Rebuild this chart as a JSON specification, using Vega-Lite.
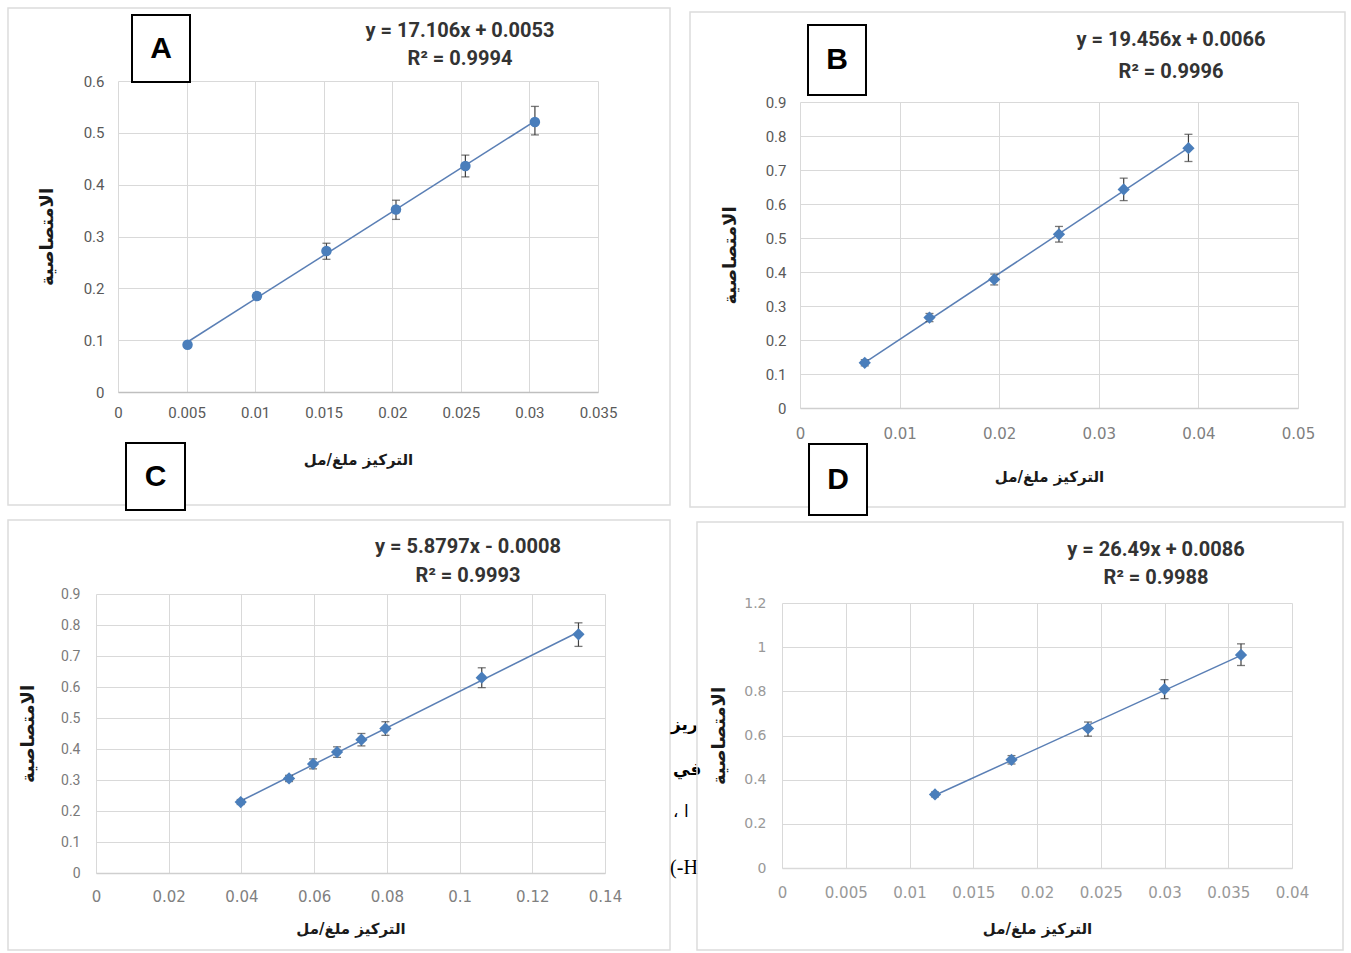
{
"$schema":"https://vega.github.io/schema/vega-lite/v6.json",
"width":1351,"height":953,"padding":0,"autosize":{"type":"none"},"background":"white",
"config":{"view":{"stroke":null},"axis":{"gridColor":"#d9d9d9","gridWidth":1,"domain":false,"ticks":false,"tickSize":0,"labelFlush":false,"labelOverlap":false,"labelBound":false}},
"datasets":{
"A":[{"x":0.00507,"y":0.091,"lo":0.087,"hi":0.095},{"x":0.01013,"y":0.185,"lo":0.179,"hi":0.191},{"x":0.0152,"y":0.272,"lo":0.256,"hi":0.287},{"x":0.02027,"y":0.352,"lo":0.333,"hi":0.37},{"x":0.02533,"y":0.436,"lo":0.415,"hi":0.457},{"x":0.0304,"y":0.521,"lo":0.496,"hi":0.551}],
"B":[{"x":0.0065,"y":0.133,"lo":0.124,"hi":0.142},{"x":0.013,"y":0.266,"lo":0.254,"hi":0.278},{"x":0.0195,"y":0.378,"lo":0.362,"hi":0.394},{"x":0.026,"y":0.511,"lo":0.488,"hi":0.534},{"x":0.0325,"y":0.643,"lo":0.61,"hi":0.676},{"x":0.039,"y":0.764,"lo":0.725,"hi":0.805}],
"C":[{"x":0.0398,"y":0.229,"lo":0.221,"hi":0.237},{"x":0.0531,"y":0.305,"lo":0.295,"hi":0.315},{"x":0.0597,"y":0.352,"lo":0.336,"hi":0.368},{"x":0.0663,"y":0.39,"lo":0.373,"hi":0.407},{"x":0.073,"y":0.43,"lo":0.41,"hi":0.45},{"x":0.0796,"y":0.466,"lo":0.444,"hi":0.488},{"x":0.1061,"y":0.63,"lo":0.598,"hi":0.662},{"x":0.1327,"y":0.77,"lo":0.731,"hi":0.807}],
"D":[{"x":0.012,"y":0.333,"lo":0.322,"hi":0.344},{"x":0.018,"y":0.49,"lo":0.471,"hi":0.509},{"x":0.024,"y":0.632,"lo":0.597,"hi":0.661},{"x":0.03,"y":0.81,"lo":0.767,"hi":0.853},{"x":0.036,"y":0.965,"lo":0.917,"hi":1.015}]
},
"layer":[
{"data":{"name":"A"},"resolve":{"axis":{"x":"independent","y":"independent"}},
"layer":[
{"data":{"values":[{}]},"mark":{"type":"rect","fillOpacity":0,"stroke":"#dcdcdc","strokeWidth":1.5},
"encoding":{"x":{"datum":-0.008021,"type":"quantitative","scale":{"domain":[0,0.035],"range":[118,598],"nice":false,"zero":false},"axis":null},"x2":{"datum":0.04025},"y":{"datum":0.7409,"type":"quantitative","scale":{"domain":[0,0.6],"range":[392,81],"nice":false,"zero":false},"axis":null},"y2":{"datum":-0.218}}},
{"transform":[{"regression":"y","on":"x"}],"mark":{"type":"line","color":"#5a7fb5","strokeWidth":1.5},
"encoding":{"x":{"field":"x","type":"quantitative","scale":{"domain":[0,0.035],"range":[118,598],"nice":false,"zero":false},
"axis":{"orient":"bottom","offset":-561,"grid":false,"values":[0,0.005,0.01,0.015,0.02,0.025,0.03,0.035],"format":"~g","domain":true,"domainColor":"#bfbfbf","domainWidth":1.5,"labelFont":"Roboto","labelFontSize":15,"labelColor":"#595959","labelPadding":13,"title":"التركيز ملغ/مل","titleFont":"DejaVu Sans","titleFontSize":15,"titleFontWeight":"bold","titleColor":"#1a1a1a","titlePadding":32}},
"y":{"field":"y","type":"quantitative","scale":{"domain":[0,0.6],"range":[392,81],"nice":false,"zero":false},"axis":null}}},
{"mark":{"type":"rule","color":"#404040","strokeWidth":1.2},
"encoding":{"x":{"field":"x","type":"quantitative","scale":{"domain":[0,0.035],"range":[118,598],"nice":false,"zero":false},"axis":null},"y":{"field":"lo","type":"quantitative","scale":{"domain":[0,0.6],"range":[392,81],"nice":false,"zero":false},"axis":null},"y2":{"field":"hi"}}},
{"mark":{"type":"tick","orient":"horizontal","size":8,"thickness":1.3,"color":"#404040"},
"encoding":{"x":{"field":"x","type":"quantitative","scale":{"domain":[0,0.035],"range":[118,598],"nice":false,"zero":false},"axis":null},"y":{"field":"lo","type":"quantitative","scale":{"domain":[0,0.6],"range":[392,81],"nice":false,"zero":false},"axis":null}}},
{"mark":{"type":"tick","orient":"horizontal","size":8,"thickness":1.3,"color":"#404040"},
"encoding":{"x":{"field":"x","type":"quantitative","scale":{"domain":[0,0.035],"range":[118,598],"nice":false,"zero":false},"axis":null},"y":{"field":"hi","type":"quantitative","scale":{"domain":[0,0.6],"range":[392,81],"nice":false,"zero":false},"axis":null}}},
{"mark":{"type":"point","shape":"circle","filled":true,"size":110,"color":"#4a7ebb","opacity":1},
"encoding":{"x":{"field":"x","type":"quantitative","scale":{"domain":[0,0.035],"range":[118,598],"nice":false,"zero":false},
"axis":{"orient":"top","grid":true,"labels":false,"ticks":false,"domain":false,"title":null,"values":[0,0.005,0.01,0.015,0.02,0.025,0.03,0.035]}},
"y":{"field":"y","type":"quantitative","scale":{"domain":[0,0.6],"range":[392,81],"nice":false,"zero":false},
"axis":{"orient":"left","offset":-118,"grid":true,"values":[0,0.1,0.2,0.3,0.4,0.5,0.6],"format":"~g","labelFont":"Roboto","labelFontSize":15,"labelColor":"#595959","labelPadding":14,"title":"الامتصاصية","titleFont":"DejaVu Sans","titleFontSize":18,"titleFontWeight":"bold","titleColor":"#1a1a1a","titlePadding":27}}}},
{"data":{"values":[{}]},"mark":{"type":"text","text":"y = 17.106x + 0.0053","font":"Roboto","fontWeight":"bold","fontSize":20,"color":"#333333","baseline":"middle"},
"encoding":{"x":{"datum":0.024938,"type":"quantitative","scale":{"domain":[0,0.035],"range":[118,598],"nice":false,"zero":false},"axis":null},"y":{"datum":0.6965,"type":"quantitative","scale":{"domain":[0,0.6],"range":[392,81],"nice":false,"zero":false},"axis":null}}},
{"data":{"values":[{}]},"mark":{"type":"text","text":"R² = 0.9994","font":"Roboto","fontWeight":"bold","fontSize":20,"color":"#333333","baseline":"middle"},
"encoding":{"x":{"datum":0.024938,"type":"quantitative","scale":{"domain":[0,0.035],"range":[118,598],"nice":false,"zero":false},"axis":null},"y":{"datum":0.6425,"type":"quantitative","scale":{"domain":[0,0.6],"range":[392,81],"nice":false,"zero":false},"axis":null}}},
{"data":{"values":[{}]},"mark":{"type":"rect","fill":"white","stroke":"black","strokeWidth":2},
"encoding":{"x":{"datum":0.001021,"type":"quantitative","scale":{"domain":[0,0.035],"range":[118,598],"nice":false,"zero":false},"axis":null},"x2":{"datum":0.00525},"y":{"datum":0.7273,"type":"quantitative","scale":{"domain":[0,0.6],"range":[392,81],"nice":false,"zero":false},"axis":null},"y2":{"datum":0.5981}}},
{"data":{"values":[{}]},"mark":{"type":"text","text":"A","font":"Liberation Sans","fontWeight":"bold","fontSize":30,"color":"black","baseline":"middle","align":"center"},
"encoding":{"x":{"datum":0.003135,"type":"quantitative","scale":{"domain":[0,0.035],"range":[118,598],"nice":false,"zero":false},"axis":null},"y":{"datum":0.6627,"type":"quantitative","scale":{"domain":[0,0.6],"range":[392,81],"nice":false,"zero":false},"axis":null}}}
]},
{"data":{"name":"B"},"resolve":{"axis":{"x":"independent","y":"independent"}},
"layer":[
{"data":{"values":[{}]},"mark":{"type":"rect","fillOpacity":0,"stroke":"#dcdcdc","strokeWidth":1.5},
"encoding":{"x":{"datum":-0.011044,"type":"quantitative","scale":{"domain":[0,0.05],"range":[800,1298],"nice":false,"zero":false},"axis":null},"x2":{"datum":0.054718},"y":{"datum":1.1647,"type":"quantitative","scale":{"domain":[0,0.9],"range":[408,102],"nice":false,"zero":false},"axis":null},"y2":{"datum":-0.2912}}},
{"transform":[{"regression":"y","on":"x"}],"mark":{"type":"line","color":"#5a7fb5","strokeWidth":1.5},
"encoding":{"x":{"field":"x","type":"quantitative","scale":{"domain":[0,0.05],"range":[800,1298],"nice":false,"zero":false},
"axis":{"orient":"bottom","offset":-545,"grid":false,"values":[0,0.01,0.02,0.03,0.04,0.05],"format":"~g","domain":true,"domainColor":"#cfcfcf","domainWidth":1.5,"labelFont":"DejaVu Sans","labelFontSize":15,"labelColor":"#808080","labelPadding":18,"title":"التركيز ملغ/مل","titleFont":"DejaVu Sans","titleFontSize":15,"titleFontWeight":"bold","titleColor":"#1a1a1a","titlePadding":28}},
"y":{"field":"y","type":"quantitative","scale":{"domain":[0,0.9],"range":[408,102],"nice":false,"zero":false},"axis":null}}},
{"mark":{"type":"rule","color":"#404040","strokeWidth":1.2},
"encoding":{"x":{"field":"x","type":"quantitative","scale":{"domain":[0,0.05],"range":[800,1298],"nice":false,"zero":false},"axis":null},"y":{"field":"lo","type":"quantitative","scale":{"domain":[0,0.9],"range":[408,102],"nice":false,"zero":false},"axis":null},"y2":{"field":"hi"}}},
{"mark":{"type":"tick","orient":"horizontal","size":8,"thickness":1.3,"color":"#404040"},
"encoding":{"x":{"field":"x","type":"quantitative","scale":{"domain":[0,0.05],"range":[800,1298],"nice":false,"zero":false},"axis":null},"y":{"field":"lo","type":"quantitative","scale":{"domain":[0,0.9],"range":[408,102],"nice":false,"zero":false},"axis":null}}},
{"mark":{"type":"tick","orient":"horizontal","size":8,"thickness":1.3,"color":"#404040"},
"encoding":{"x":{"field":"x","type":"quantitative","scale":{"domain":[0,0.05],"range":[800,1298],"nice":false,"zero":false},"axis":null},"y":{"field":"hi","type":"quantitative","scale":{"domain":[0,0.9],"range":[408,102],"nice":false,"zero":false},"axis":null}}},
{"mark":{"type":"point","shape":"diamond","filled":true,"size":150,"color":"#4a7ebb","opacity":1},
"encoding":{"x":{"field":"x","type":"quantitative","scale":{"domain":[0,0.05],"range":[800,1298],"nice":false,"zero":false},
"axis":{"orient":"top","grid":true,"labels":false,"ticks":false,"domain":false,"title":null,"values":[0,0.01,0.02,0.03,0.04,0.05]}},
"y":{"field":"y","type":"quantitative","scale":{"domain":[0,0.9],"range":[408,102],"nice":false,"zero":false},
"axis":{"orient":"left","offset":-800,"grid":true,"values":[0,0.1,0.2,0.3,0.4,0.5,0.6,0.7,0.8,0.9],"format":"~g","labelFont":"Roboto","labelFontSize":15,"labelColor":"#595959","labelPadding":14,"title":"الامتصاصية","titleFont":"DejaVu Sans","titleFontSize":18,"titleFontWeight":"bold","titleColor":"#1a1a1a","titlePadding":26}}}},
{"data":{"values":[{}]},"mark":{"type":"text","text":"y = 19.456x + 0.0066","font":"Roboto","fontWeight":"bold","fontSize":20,"color":"#333333","baseline":"middle"},
"encoding":{"x":{"datum":0.037249,"type":"quantitative","scale":{"domain":[0,0.05],"range":[800,1298],"nice":false,"zero":false},"axis":null},"y":{"datum":1.0824,"type":"quantitative","scale":{"domain":[0,0.9],"range":[408,102],"nice":false,"zero":false},"axis":null}}},
{"data":{"values":[{}]},"mark":{"type":"text","text":"R² = 0.9996","font":"Roboto","fontWeight":"bold","fontSize":20,"color":"#333333","baseline":"middle"},
"encoding":{"x":{"datum":0.037249,"type":"quantitative","scale":{"domain":[0,0.05],"range":[800,1298],"nice":false,"zero":false},"axis":null},"y":{"datum":0.9882,"type":"quantitative","scale":{"domain":[0,0.9],"range":[408,102],"nice":false,"zero":false},"axis":null}}},
{"data":{"values":[{}]},"mark":{"type":"rect","fill":"white","stroke":"black","strokeWidth":2},
"encoding":{"x":{"datum":0.000803,"type":"quantitative","scale":{"domain":[0,0.05],"range":[800,1298],"nice":false,"zero":false},"axis":null},"x2":{"datum":0.006626},"y":{"datum":1.1265,"type":"quantitative","scale":{"domain":[0,0.9],"range":[408,102],"nice":false,"zero":false},"axis":null},"y2":{"datum":0.9206}}},
{"data":{"values":[{}]},"mark":{"type":"text","text":"B","font":"Liberation Sans","fontWeight":"bold","fontSize":30,"color":"black","baseline":"middle","align":"center"},
"encoding":{"x":{"datum":0.003715,"type":"quantitative","scale":{"domain":[0,0.05],"range":[800,1298],"nice":false,"zero":false},"axis":null},"y":{"datum":1.0235,"type":"quantitative","scale":{"domain":[0,0.9],"range":[408,102],"nice":false,"zero":false},"axis":null}}}
]},
{"data":{"name":"C"},"resolve":{"axis":{"x":"independent","y":"independent"}},
"layer":[
{"data":{"values":[{}]},"mark":{"type":"rect","fillOpacity":0,"stroke":"#dcdcdc","strokeWidth":1.5},
"encoding":{"x":{"datum":-0.024204,"type":"quantitative","scale":{"domain":[0,0.14],"range":[96,605],"nice":false,"zero":false},"axis":null},"x2":{"datum":0.15788},"y":{"datum":1.1387,"type":"quantitative","scale":{"domain":[0,0.9],"range":[873,594],"nice":false,"zero":false},"axis":null},"y2":{"datum":-0.2484}}},
{"transform":[{"regression":"y","on":"x"}],"mark":{"type":"line","color":"#5a7fb5","strokeWidth":1.5},
"encoding":{"x":{"field":"x","type":"quantitative","scale":{"domain":[0,0.14],"range":[96,605],"nice":false,"zero":false},
"axis":{"orient":"bottom","offset":-80,"grid":false,"values":[0,0.02,0.04,0.06,0.08,0.1,0.12,0.14],"format":"~g","domain":true,"domainColor":"#cfcfcf","domainWidth":1.5,"labelFont":"DejaVu Sans","labelFontSize":15,"labelColor":"#808080","labelPadding":16,"title":"التركيز ملغ/مل","titleFont":"DejaVu Sans","titleFontSize":15,"titleFontWeight":"bold","titleColor":"#1a1a1a","titlePadding":17}},
"y":{"field":"y","type":"quantitative","scale":{"domain":[0,0.9],"range":[873,594],"nice":false,"zero":false},"axis":null}}},
{"mark":{"type":"rule","color":"#404040","strokeWidth":1.2},
"encoding":{"x":{"field":"x","type":"quantitative","scale":{"domain":[0,0.14],"range":[96,605],"nice":false,"zero":false},"axis":null},"y":{"field":"lo","type":"quantitative","scale":{"domain":[0,0.9],"range":[873,594],"nice":false,"zero":false},"axis":null},"y2":{"field":"hi"}}},
{"mark":{"type":"tick","orient":"horizontal","size":8,"thickness":1.3,"color":"#404040"},
"encoding":{"x":{"field":"x","type":"quantitative","scale":{"domain":[0,0.14],"range":[96,605],"nice":false,"zero":false},"axis":null},"y":{"field":"lo","type":"quantitative","scale":{"domain":[0,0.9],"range":[873,594],"nice":false,"zero":false},"axis":null}}},
{"mark":{"type":"tick","orient":"horizontal","size":8,"thickness":1.3,"color":"#404040"},
"encoding":{"x":{"field":"x","type":"quantitative","scale":{"domain":[0,0.14],"range":[96,605],"nice":false,"zero":false},"axis":null},"y":{"field":"hi","type":"quantitative","scale":{"domain":[0,0.9],"range":[873,594],"nice":false,"zero":false},"axis":null}}},
{"mark":{"type":"point","shape":"diamond","filled":true,"size":150,"color":"#4a7ebb","opacity":1},
"encoding":{"x":{"field":"x","type":"quantitative","scale":{"domain":[0,0.14],"range":[96,605],"nice":false,"zero":false},
"axis":{"orient":"top","grid":true,"labels":false,"ticks":false,"domain":false,"title":null,"values":[0,0.02,0.04,0.06,0.08,0.1,0.12,0.14]}},
"y":{"field":"y","type":"quantitative","scale":{"domain":[0,0.9],"range":[873,594],"nice":false,"zero":false},
"axis":{"orient":"left","offset":-96,"grid":true,"values":[0,0.1,0.2,0.3,0.4,0.5,0.6,0.7,0.8,0.9],"format":"~g","labelFont":"Roboto","labelFontSize":14,"labelColor":"#7a7a7a","labelPadding":16,"title":"الامتصاصية","titleFont":"DejaVu Sans","titleFontSize":18,"titleFontWeight":"bold","titleColor":"#1a1a1a","titlePadding":23}}}},
{"data":{"values":[{}]},"mark":{"type":"text","text":"y = 5.8797x - 0.0008","font":"Roboto","fontWeight":"bold","fontSize":20,"color":"#333333","baseline":"middle"},
"encoding":{"x":{"datum":0.10232,"type":"quantitative","scale":{"domain":[0,0.14],"range":[96,605],"nice":false,"zero":false},"axis":null},"y":{"datum":1.0516,"type":"quantitative","scale":{"domain":[0,0.9],"range":[873,594],"nice":false,"zero":false},"axis":null}}},
{"data":{"values":[{}]},"mark":{"type":"text","text":"R² = 0.9993","font":"Roboto","fontWeight":"bold","fontSize":20,"color":"#333333","baseline":"middle"},
"encoding":{"x":{"datum":0.10232,"type":"quantitative","scale":{"domain":[0,0.14],"range":[96,605],"nice":false,"zero":false},"axis":null},"y":{"datum":0.9581,"type":"quantitative","scale":{"domain":[0,0.9],"range":[873,594],"nice":false,"zero":false},"axis":null}}},
{"data":{"values":[{}]},"mark":{"type":"rect","fill":"white","stroke":"black","strokeWidth":2},
"encoding":{"x":{"datum":0.008251,"type":"quantitative","scale":{"domain":[0,0.14],"range":[96,605],"nice":false,"zero":false},"axis":null},"x2":{"datum":0.02448},"y":{"datum":1.3871,"type":"quantitative","scale":{"domain":[0,0.9],"range":[873,594],"nice":false,"zero":false},"axis":null},"y2":{"datum":1.171}}},
{"data":{"values":[{}]},"mark":{"type":"text","text":"C","font":"Liberation Sans","fontWeight":"bold","fontSize":30,"color":"black","baseline":"middle","align":"center"},
"encoding":{"x":{"datum":0.016366,"type":"quantitative","scale":{"domain":[0,0.14],"range":[96,605],"nice":false,"zero":false},"axis":null},"y":{"datum":1.279,"type":"quantitative","scale":{"domain":[0,0.9],"range":[873,594],"nice":false,"zero":false},"axis":null}}},
{"data":{"values":[{}]},"mark":{"type":"text","text":"ريز","font":"DejaVu Sans","fontWeight":"bold","fontSize":17,"color":"black","baseline":"middle","align":"left"},
"encoding":{"x":{"datum":0.15815,"type":"quantitative","scale":{"domain":[0,0.14],"range":[96,605],"nice":false,"zero":false},"axis":null},"y":{"datum":0.4774,"type":"quantitative","scale":{"domain":[0,0.9],"range":[873,594],"nice":false,"zero":false},"axis":null}}},
{"data":{"values":[{}]},"mark":{"type":"text","text":"في","font":"DejaVu Sans","fontWeight":"bold","fontSize":17,"color":"black","baseline":"middle","align":"left"},
"encoding":{"x":{"datum":0.1587,"type":"quantitative","scale":{"domain":[0,0.14],"range":[96,605],"nice":false,"zero":false},"axis":null},"y":{"datum":0.3323,"type":"quantitative","scale":{"domain":[0,0.9],"range":[873,594],"nice":false,"zero":false},"axis":null}}},
{"data":{"values":[{}]},"mark":{"type":"text","text":"، ا","font":"DejaVu Sans","fontSize":17,"color":"black","baseline":"middle","align":"left"},
"encoding":{"x":{"datum":0.1587,"type":"quantitative","scale":{"domain":[0,0.14],"range":[96,605],"nice":false,"zero":false},"axis":null},"y":{"datum":0.1968,"type":"quantitative","scale":{"domain":[0,0.9],"range":[873,594],"nice":false,"zero":false},"axis":null}}},
{"data":{"values":[{}]},"mark":{"type":"text","text":"(-H","font":"Liberation Serif","fontSize":20,"color":"black","baseline":"middle","align":"left"},
"encoding":{"x":{"datum":0.1579,"type":"quantitative","scale":{"domain":[0,0.14],"range":[96,605],"nice":false,"zero":false},"axis":null},"y":{"datum":0.0161,"type":"quantitative","scale":{"domain":[0,0.9],"range":[873,594],"nice":false,"zero":false},"axis":null}}}
]},
{"data":{"name":"D"},"resolve":{"axis":{"x":"independent","y":"independent"}},
"layer":[
{"data":{"values":[{}]},"mark":{"type":"rect","fillOpacity":0,"stroke":"#dcdcdc","strokeWidth":1.5},
"encoding":{"x":{"datum":-0.006667,"type":"quantitative","scale":{"domain":[0,0.04],"range":[782,1292],"nice":false,"zero":false},"axis":null},"x2":{"datum":0.044},"y":{"datum":1.5668,"type":"quantitative","scale":{"domain":[0,1.2],"range":[868,603],"nice":false,"zero":false},"axis":null},"y2":{"datum":-0.3713}}},
{"transform":[{"regression":"y","on":"x"}],"mark":{"type":"line","color":"#5a7fb5","strokeWidth":1.5},
"encoding":{"x":{"field":"x","type":"quantitative","scale":{"domain":[0,0.04],"range":[782,1292],"nice":false,"zero":false},
"axis":{"orient":"bottom","offset":-85,"grid":false,"values":[0,0.005,0.01,0.015,0.02,0.025,0.03,0.035,0.04],"format":"~g","domain":true,"domainColor":"#d9d9d9","domainWidth":1.5,"labelFont":"DejaVu Sans","labelFontSize":15,"labelColor":"#999999","labelPadding":17,"title":"التركيز ملغ/مل","titleFont":"DejaVu Sans","titleFontSize":15,"titleFontWeight":"bold","titleColor":"#1a1a1a","titlePadding":21}},
"y":{"field":"y","type":"quantitative","scale":{"domain":[0,1.2],"range":[868,603],"nice":false,"zero":false},"axis":null}}},
{"mark":{"type":"rule","color":"#404040","strokeWidth":1.2},
"encoding":{"x":{"field":"x","type":"quantitative","scale":{"domain":[0,0.04],"range":[782,1292],"nice":false,"zero":false},"axis":null},"y":{"field":"lo","type":"quantitative","scale":{"domain":[0,1.2],"range":[868,603],"nice":false,"zero":false},"axis":null},"y2":{"field":"hi"}}},
{"mark":{"type":"tick","orient":"horizontal","size":8,"thickness":1.3,"color":"#404040"},
"encoding":{"x":{"field":"x","type":"quantitative","scale":{"domain":[0,0.04],"range":[782,1292],"nice":false,"zero":false},"axis":null},"y":{"field":"lo","type":"quantitative","scale":{"domain":[0,1.2],"range":[868,603],"nice":false,"zero":false},"axis":null}}},
{"mark":{"type":"tick","orient":"horizontal","size":8,"thickness":1.3,"color":"#404040"},
"encoding":{"x":{"field":"x","type":"quantitative","scale":{"domain":[0,0.04],"range":[782,1292],"nice":false,"zero":false},"axis":null},"y":{"field":"hi","type":"quantitative","scale":{"domain":[0,1.2],"range":[868,603],"nice":false,"zero":false},"axis":null}}},
{"mark":{"type":"point","shape":"diamond","filled":true,"size":150,"color":"#4a7ebb","opacity":1},
"encoding":{"x":{"field":"x","type":"quantitative","scale":{"domain":[0,0.04],"range":[782,1292],"nice":false,"zero":false},
"axis":{"orient":"top","grid":true,"labels":false,"ticks":false,"domain":false,"title":null,"values":[0,0.005,0.01,0.015,0.02,0.025,0.03,0.035,0.04]}},
"y":{"field":"y","type":"quantitative","scale":{"domain":[0,1.2],"range":[868,603],"nice":false,"zero":false},
"axis":{"orient":"left","offset":-782,"grid":true,"values":[0,0.2,0.4,0.6,0.8,1,1.2],"format":"~g","labelFont":"DejaVu Sans","labelFontSize":14,"labelColor":"#999999","labelPadding":16,"title":"الامتصاصية","titleFont":"DejaVu Sans","titleFontSize":18,"titleFontWeight":"bold","titleColor":"#1a1a1a","titlePadding":15}}}},
{"data":{"values":[{}]},"mark":{"type":"text","text":"y = 26.49x + 0.0086","font":"Roboto","fontWeight":"bold","fontSize":20,"color":"#333333","baseline":"middle"},
"encoding":{"x":{"datum":0.029333,"type":"quantitative","scale":{"domain":[0,0.04],"range":[782,1292],"nice":false,"zero":false},"axis":null},"y":{"datum":1.44,"type":"quantitative","scale":{"domain":[0,1.2],"range":[868,603],"nice":false,"zero":false},"axis":null}}},
{"data":{"values":[{}]},"mark":{"type":"text","text":"R² = 0.9988","font":"Roboto","fontWeight":"bold","fontSize":20,"color":"#333333","baseline":"middle"},
"encoding":{"x":{"datum":0.029333,"type":"quantitative","scale":{"domain":[0,0.04],"range":[782,1292],"nice":false,"zero":false},"axis":null},"y":{"datum":1.3132,"type":"quantitative","scale":{"domain":[0,1.2],"range":[868,603],"nice":false,"zero":false},"axis":null}}},
{"data":{"values":[{}]},"mark":{"type":"rect","fill":"white","stroke":"black","strokeWidth":2},
"encoding":{"x":{"datum":0.002118,"type":"quantitative","scale":{"domain":[0,0.04],"range":[782,1292],"nice":false,"zero":false},"axis":null},"x2":{"datum":0.006667},"y":{"datum":1.92,"type":"quantitative","scale":{"domain":[0,1.2],"range":[868,603],"nice":false,"zero":false},"axis":null},"y2":{"datum":1.5985}}},
{"data":{"values":[{}]},"mark":{"type":"text","text":"D","font":"Liberation Sans","fontWeight":"bold","fontSize":30,"color":"black","baseline":"middle","align":"center"},
"encoding":{"x":{"datum":0.004392,"type":"quantitative","scale":{"domain":[0,0.04],"range":[782,1292],"nice":false,"zero":false},"axis":null},"y":{"datum":1.7592,"type":"quantitative","scale":{"domain":[0,1.2],"range":[868,603],"nice":false,"zero":false},"axis":null}}}
]}
],
"resolve":{"scale":{"x":"independent","y":"independent"},"axis":{"x":"independent","y":"independent"}}
}
